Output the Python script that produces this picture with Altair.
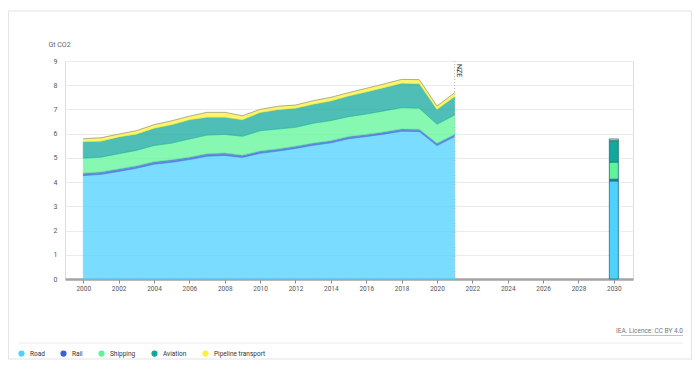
import altair as alt
import pandas as pd

years = list(range(2000, 2022))
series = ["Road", "Rail", "Shipping", "Aviation", "Pipeline transport"]
colors = ["#4dd2ff", "#3a62d6", "#5ef598", "#13a89e", "#fff23a"]

road = [4.27, 4.32, 4.44, 4.57, 4.74, 4.82, 4.93, 5.07, 5.10, 5.02, 5.19,
        5.28, 5.39, 5.52, 5.62, 5.79, 5.88, 5.98, 6.10, 6.09, 5.51, 5.88]
rail = [0.10, 0.10, 0.10, 0.10, 0.10, 0.10, 0.10, 0.10, 0.10, 0.09, 0.09,
        0.09, 0.09, 0.09, 0.09, 0.09, 0.09, 0.09, 0.09, 0.09, 0.09, 0.09]
shipping = [0.62, 0.61, 0.63, 0.64, 0.67, 0.69, 0.75, 0.77, 0.77, 0.78, 0.84,
            0.82, 0.78, 0.82, 0.83, 0.82, 0.84, 0.87, 0.88, 0.87, 0.79, 0.80]
aviation = [0.68, 0.66, 0.69, 0.67, 0.71, 0.76, 0.79, 0.74, 0.71, 0.68, 0.75,
            0.80, 0.79, 0.78, 0.81, 0.85, 0.91, 0.96, 1.01, 1.01, 0.61, 0.76]
pipeline = [0.12, 0.14, 0.12, 0.14, 0.15, 0.16, 0.15, 0.20, 0.20, 0.17, 0.13,
            0.14, 0.13, 0.15, 0.15, 0.14, 0.15, 0.15, 0.16, 0.17, 0.14, 0.16]

nze_year = [2030]
nze_values = [4.05, 0.07, 0.71, 0.88, 0.07]

x_ticks = list(range(2000, 2031, 2))
y_ticks = list(range(0, 10))

rows = []
for i, y in enumerate(years):
    for k, (name, vals) in enumerate(zip(series, [road, rail, shipping, aviation, pipeline])):
        rows.append({"year": y, "series": name, "idx": k, "value": vals[i]})
hist = pd.DataFrame(rows)
nze = pd.DataFrame([{"year": nze_year[0], "series": s, "idx": k, "value": v}
                    for k, (s, v) in enumerate(zip(series, nze_values))])

FONT = "Roboto"
W, H = 568, 218
PL, PT = 57, 53
TOTW, TOTH = 684, 352

xscale = alt.Scale(domain=[1999.25, 2030.8], nice=False, zero=False)
yscale = alt.Scale(domain=[0, 9], nice=False)
cscale = alt.Scale(domain=series, range=colors)

xaxis = alt.Axis(values=x_ticks, format="d", title=None, grid=False,
                 labelOverlap=False,
                 domainColor="#a3a3a3", domainWidth=2.5, tickColor="#888",
                 tickSize=4, labelFontSize=6.5, labelColor="#555", labelPadding=2,
                 labelFont=FONT)
yaxis = alt.Axis(values=y_ticks, title="Gt CO2", titleAngle=0, titleX=-17,
                 titleY=-17, titleAlign="left", titleBaseline="middle",
                 labelOverlap=False,
                 titleFontSize=7, titleFontWeight="normal", titleColor="#666",
                 titleFont=FONT, domain=False, ticks=False, labelPadding=8,
                 labelFontSize=7, labelColor="#555", labelFont=FONT,
                 gridColor="#ececec", gridWidth=1)

color_enc = alt.Color("series:N", scale=cscale, sort=series,
                      legend=alt.Legend(title=None, orient="none", direction="horizontal",
                                        legendX=-47, legendY=289, symbolType="circle",
                                        symbolSize=22, symbolOpacity=1,
                                        labelFontSize=6.5, labelColor="#333",
                                        labelFont=FONT, labelOffset=5,
                                        columnPadding=13, padding=0))

areas = alt.Chart(hist).mark_area(fillOpacity=0.75, strokeWidth=0.8, strokeOpacity=0.6).encode(
    x=alt.X("year:Q", scale=xscale, axis=xaxis),
    y=alt.Y("value:Q", stack="zero", scale=yscale, axis=yaxis),
    color=color_enc,
    stroke=alt.Stroke("series:N", scale=cscale, legend=None),
    order=alt.Order("idx:Q"),
)

total_line = alt.Chart(hist).transform_aggregate(
    total="sum(value)", groupby=["year"]
).mark_line(color="#9a9a9a", strokeWidth=0.8).encode(
    x=alt.X("year:Q", scale=xscale, axis=xaxis),
    y=alt.Y("total:Q", scale=yscale, axis=yaxis),
)

bars = alt.Chart(nze).mark_bar(size=9, stroke="#1f6f85", strokeWidth=0.8).encode(
    x=alt.X("year:Q", scale=xscale, axis=xaxis),
    y=alt.Y("value:Q", stack="zero", scale=yscale, axis=yaxis),
    color=alt.Color("series:N", scale=cscale, sort=series),
    order=alt.Order("idx:Q"),
)

marker = pd.DataFrame({"year": [2021], "label": ["NZE"]})
rule = alt.Chart(marker).mark_rule(strokeDash=[1, 2], color="#b5b5b5", strokeWidth=1).encode(
    x=alt.X("year:Q", scale=xscale, axis=xaxis), y=alt.value(0), y2=alt.value(H))
label = alt.Chart(marker).mark_text(angle=90, align="left", baseline="bottom",
                                    fontSize=7, color="#333", font=FONT, dy=-1).encode(
    x=alt.X("year:Q", scale=xscale, axis=xaxis), y=alt.value(3), text="label:N")

# decorations: frame, separator, licence
frame = alt.Chart(pd.DataFrame({"a": [0]})).mark_rect(
    fill=None, stroke="#e4e4e4", strokeWidth=1.2, clip=False).encode(
    x=alt.value(-PL + 0.5), x2=alt.value(TOTW - PL - 0.5),
    y=alt.value(-50), y2=alt.value(TOTH - PT - 1))
sep = alt.Chart(pd.DataFrame({"a": [0]})).mark_rule(
    color="#ececec", strokeWidth=1, clip=False).encode(
    x=alt.value(-46), x2=alt.value(618), y=alt.value(282))
lic = alt.Chart(pd.DataFrame({"t": ["IEA. Licence: CC BY 4.0"]})).mark_text(
    align="right", baseline="middle", fontSize=6.5, color="#777", font=FONT, clip=False).encode(
    x=alt.value(618), y=alt.value(270), text="t:N")
lic_ul = alt.Chart(pd.DataFrame({"a": [0]})).mark_rule(
    color="#999", strokeWidth=0.6, clip=False).encode(
    x=alt.value(556), x2=alt.value(618), y=alt.value(274.5))

chart = alt.layer(frame, areas, total_line, bars, rule, label, sep, lic, lic_ul).properties(
    width=W, height=H,
    autosize=alt.AutoSizeParams(type="none"),
    padding={"left": PL, "top": PT, "right": TOTW - PL - W, "bottom": TOTH - PT - H},
).configure_view(stroke=None).configure(font=FONT)

chart.save("out.html", embed_options={"renderer": "svg", "actions": False})
